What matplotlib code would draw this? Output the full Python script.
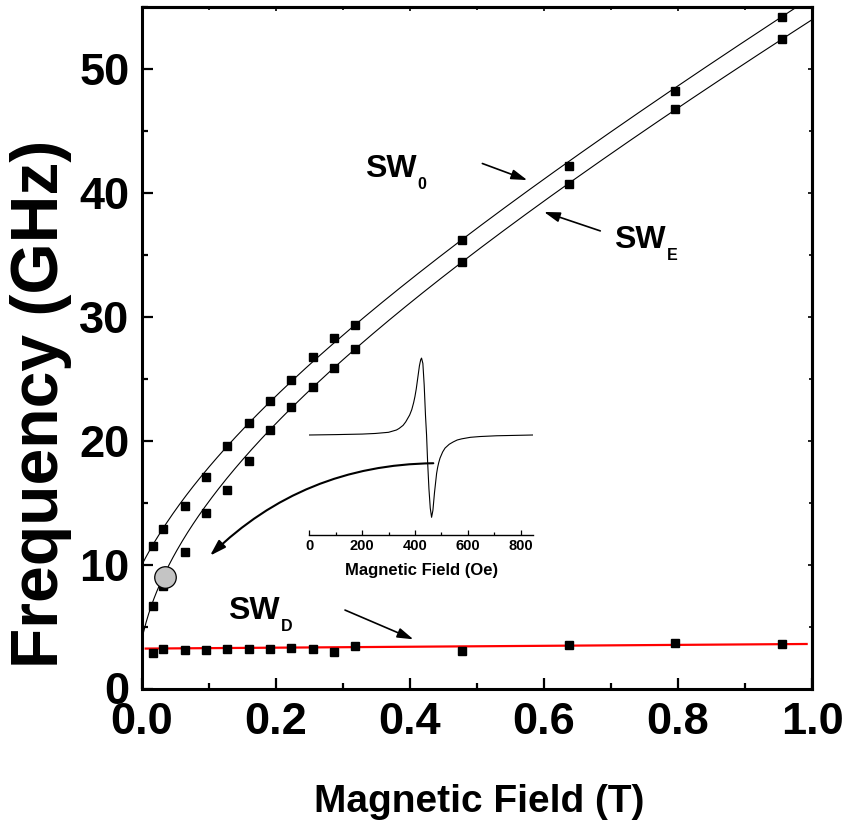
import numpy as np
import matplotlib
matplotlib.use("Agg")
import matplotlib.pyplot as plt
from matplotlib.font_manager import FontProperties
from matplotlib.ticker import MultipleLocator

# ---------------------------------------------------------------- data
# applied field (T) of each spectrum
field_T = [0.0159, 0.0318, 0.0637, 0.0955, 0.127, 0.159, 0.191, 0.223,
           0.255, 0.286, 0.318, 0.477, 0.637, 0.796, 0.955]
# measured spin-wave frequencies (GHz)
f_sw0 = [11.5, 12.9, 14.7, 17.05, 19.55, 21.4, 23.2, 24.9,
         26.75, 28.25, 29.3, 36.2, 42.2, 48.25, 54.2]
f_swe = [6.65, 8.3, 11.05, 14.15, 16.05, 18.35, 20.85, 22.7,
         24.35, 25.85, 27.4, 34.45, 40.75, 46.75, 52.4]
f_swd = [2.9, 3.17, 3.1, 3.1, 3.15, 3.2, 3.17, 3.3,
         3.17, 2.93, 3.43, 3.06, 3.51, 3.67, 3.57]

# Kittel fit parameters: gamma (GHz/T), anisotropy field (T), Meff (T)
kittel_sw0 = (30.17, 0.0486, 2.214)
kittel_swe = (29.36, 0.0079, 2.345)
# linear fit of the low-lying mode: intercept (GHz), slope (GHz/T), field range
swd_fit = (3.22, 0.375)
swd_fit_range = (0.0055, 0.992)

# highlighted FMR point (field, frequency)
fmr_point = (0.0343, 8.98)

# inset: FMR derivative spectrum, field (Oe) and signal (a.u.)
spec_field = [0, 100, 200, 250, 300, 330, 340, 355, 365, 380, 388, 395, 400,
              405, 409, 413, 417, 420, 422, 425, 430, 435, 440, 444, 448, 453,
              458, 463, 468, 474, 482, 486, 490, 495, 500, 505, 514, 530, 545,
              560, 577, 610, 646, 709, 847]
spec_signal = [0.0, 0.005, 0.012, 0.02, 0.035, 0.065, 0.085, 0.125, 0.17, 0.26,
               0.33, 0.42, 0.5, 0.6, 0.7, 0.8, 0.9, 0.95, 0.98, 1.0, 0.93, 0.65,
               0.25, 0.0, -0.35, -0.7, -0.95, -1.07, -0.98, -0.75, -0.5, -0.42,
               -0.36, -0.3, -0.26, -0.22, -0.17, -0.12, -0.09, -0.065, -0.05,
               -0.03, -0.02, -0.01, 0.0]
inset_ticks = [0, 200, 400, 600, 800]

# ---------------------------------------------------------------- fonts
def bfont(size):
    return FontProperties(family=["Liberation Sans", "DejaVu Sans"], weight="bold", size=size)

plt.rcParams["font.family"] = ["Liberation Sans", "DejaVu Sans"]
plt.rcParams["font.weight"] = "bold"

W, H = 848, 823
fig = plt.figure(figsize=(W / 100, H / 100), dpi=100)
ax = fig.add_axes([142 / W, 1 - 688.5 / H, 670 / W, 681.5 / H])

# ---------------------------------------------------------------- main data
B = np.linspace(0, 1, 500)
for (g, hk, meff) in (kittel_sw0, kittel_swe):
    ax.plot(B, g * np.sqrt((B + hk) * (B + hk + meff)), color="black", lw=0.8, zorder=2)

Bd = np.array(swd_fit_range)
ax.plot(Bd, swd_fit[0] + swd_fit[1] * Bd, color="#ff0000", lw=1.6, zorder=2)

for f in (f_sw0, f_swe, f_swd):
    ax.plot(field_T, f, ls="none", marker="s", ms=5.2, color="black", zorder=3)

ax.plot(*fmr_point, marker="o", ms=15.5, mfc="#c4c4c4", mec="black", mew=0.9, zorder=4)

ax.set_xlim(0, 1.0)
ax.set_ylim(0, 55)
ax.xaxis.set_major_locator(MultipleLocator(0.2))
ax.xaxis.set_minor_locator(MultipleLocator(0.1))
ax.yaxis.set_major_locator(MultipleLocator(10))
ax.yaxis.set_minor_locator(MultipleLocator(5))
ax.xaxis.set_major_formatter(plt.FuncFormatter(lambda v, p: f"{v:.1f}"))
ax.yaxis.set_major_formatter(plt.FuncFormatter(lambda v, p: f"{v:.0f}"))

for sp in ax.spines.values():
    sp.set_linewidth(2.2)
ax.tick_params(which="both", direction="in", top=False, right=False, width=1.6)
ax.tick_params(axis="x", which="both", pad=9.5)
ax.tick_params(axis="y", which="both", pad=9)
ax.tick_params(which="major", length=8)
ax.tick_params(which="minor", length=4.5)
for lab in ax.get_xticklabels() + ax.get_yticklabels():
    lab.set_fontproperties(bfont(32.5))

# short ticks along the top and right edges
top = ax.secondary_xaxis("top")
top.xaxis.set_major_locator(MultipleLocator(0.2))
top.xaxis.set_minor_locator(MultipleLocator(0.1))
top.tick_params(which="both", direction="in", labeltop=False, width=1.2)
top.tick_params(which="major", length=3)
top.tick_params(which="minor", length=2)
right = ax.secondary_yaxis("right")
right.yaxis.set_major_locator(MultipleLocator(10))
right.yaxis.set_minor_locator(MultipleLocator(5))
right.tick_params(which="both", direction="in", labelright=False, width=1.2)
right.tick_params(which="major", length=3)
right.tick_params(which="minor", length=2)
for s in (top, right):
    for sp in s.spines.values():
        sp.set_linewidth(2.2)

# axis titles
fig.text(479 / W, 1 - 812 / H, "Magnetic Field (T)", ha="center", va="baseline",
         fontproperties=bfont(28))
fig.text(58 / W, 1 - 404 / H, "Frequency (GHz)", rotation=90,
         ha="center", va="baseline", rotation_mode="anchor",
         fontproperties=bfont(47.5))

# ---------------------------------------------------------------- mode labels and arrows
arrow_kw = dict(arrowstyle="-|>,head_length=0.8,head_width=0.25", color="black",
                lw=1.2, shrinkA=0, shrinkB=0, mutation_scale=12)
ax.annotate("", xy=(0.575, 41.03), xytext=(0.508, 42.37), arrowprops=arrow_kw)
ax.annotate("", xy=(0.600, 38.46), xytext=(0.684, 36.93), arrowprops=arrow_kw)
ax.annotate("", xy=(0.405, 3.97), xytext=(0.303, 6.33), arrowprops=arrow_kw)
curved_kw = dict(arrow_kw, lw=1.5, connectionstyle="arc3,rad=0.2")
ax.annotate("", xy=(0.1015, 10.72), xytext=(0.4348, 18.18), arrowprops=curved_kw)

mode_labels = [("SW", "0", 0.333, 41.3), ("SW", "E", 0.705, 35.57), ("SW", "D", 0.129, 5.58)]
texts = []
for main, sub, x, y in mode_labels:
    t = ax.text(x, y, main, ha="left", va="baseline", fontproperties=bfont(23))
    texts.append((t, sub, x, y))

# ---------------------------------------------------------------- inset
ins = fig.add_axes([309.3 / W, 1 - 535 / H, 223.7 / W, 180 / H])
ins.patch.set_alpha(0)
ins.plot(spec_field, spec_signal, color="black", lw=0.8)
ins.set_xlim(0, 847)
ins.set_ylim(-1.3, 1.04)
for side in ("left", "right", "top"):
    ins.spines[side].set_visible(False)
ins.spines["bottom"].set_linewidth(1.0)
ins.set_yticks([])
ins.set_xticks(inset_ticks)
ins.xaxis.set_minor_locator(MultipleLocator(100))
ins.tick_params(axis="x", which="both", direction="in", pad=3, width=0.9)
ins.tick_params(axis="x", which="major", length=3.5)
ins.tick_params(axis="x", which="minor", length=2)
for lab in ins.get_xticklabels():
    lab.set_fontproperties(bfont(10.5))
fig.text(421.5 / W, 1 - 575 / H, "Magnetic Field (Oe)", ha="center", va="baseline",
         fontproperties=bfont(12))

# subscripts placed right after the measured "SW" text
fig.canvas.draw()
renderer = fig.canvas.get_renderer()
for t, sub, x, y in texts:
    bb = t.get_window_extent(renderer)
    bx, by = ax.transData.transform((x, y))
    fig.text((bb.x1 + 1) / W, (by - 12) / H, sub, ha="left", va="baseline",
             fontproperties=bfont(11.5))

fig.savefig("out.png", dpi=100)
